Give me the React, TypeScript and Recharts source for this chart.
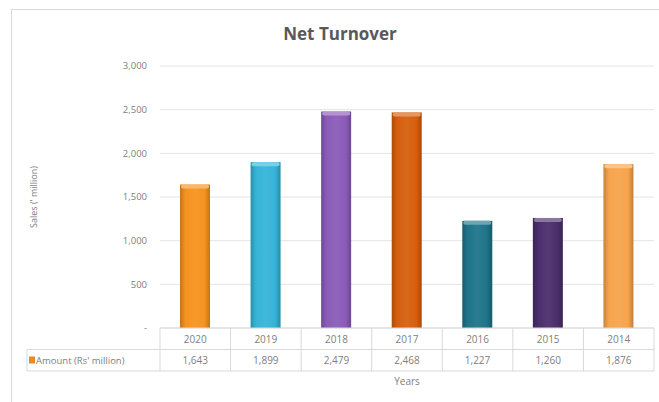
import React from 'react'
import { BarChart, Bar, XAxis, YAxis, CartesianGrid, Cell } from 'recharts'

const years = ['2020', '2019', '2018', '2017', '2016', '2015', '2014']
const amounts = [1643, 1899, 2479, 2468, 1227, 1260, 1876]
const barColors = ['#F6931F', '#35B4D8', '#8A5BB8', '#D65F0E', '#1E7489', '#4A2E6C', '#F7A44C']
const yTicks = [0, 500, 1000, 1500, 2000, 2500, 3000]

const data = years.map((year, i) => ({ year, amount: amounts[i] }))

const PLOT_LEFT = 160
const PLOT_RIGHT = 654
const TABLE_LEFT = 27
const ROW_H = 21.5
const LINE = '#d9d9d9'
const TEXT = '#808080'
const FONT = '"Open Sans", "Noto Sans", sans-serif'

const fmt = (v: number) => (v === 0 ? '-' : v.toLocaleString('en-US'))

function shade(hex: string, f: number) {
  const n = parseInt(hex.slice(1), 16)
  const c = [(n >> 16) & 255, (n >> 8) & 255, n & 255].map((v) =>
    Math.round(f < 0 ? v * (1 + f) : v + (255 - v) * f)
  )
  return `rgb(${c[0]},${c[1]},${c[2]})`
}

// flat bar with soft darker edges and a lighter cap, like the Excel 3D column look
function Column(props: any) {
  const { x, y, width, height, index } = props
  if (!height) return null
  const c = barColors[index]
  return (
    <g>
      <rect x={x} y={y} width={width} height={height} fill={`url(#g${index})`} />
      <rect x={x + 1} y={y} width={width - 2} height={4} rx={2} fill={shade(c, 0.35)} />
    </g>
  )
}

function TableTick(props: any) {
  const { x, y, index } = props
  const band = (PLOT_RIGHT - PLOT_LEFT) / years.length
  const left = x - band / 2
  const right = x + band / 2
  return (
    <g>
      {index === 0 && (
        <g>
          <line x1={PLOT_LEFT} x2={PLOT_RIGHT} y1={y} y2={y} stroke={LINE} />
          <line x1={TABLE_LEFT} x2={PLOT_RIGHT} y1={y + ROW_H} y2={y + ROW_H} stroke={LINE} />
          <line x1={TABLE_LEFT} x2={PLOT_RIGHT} y1={y + ROW_H * 2} y2={y + ROW_H * 2} stroke={LINE} />
          <line x1={TABLE_LEFT} x2={TABLE_LEFT} y1={y + ROW_H} y2={y + ROW_H * 2} stroke={LINE} />
          <rect x={TABLE_LEFT + 2} y={y + ROW_H + 7} width={6} height={7} fill="#E8892B" />
          <text x={TABLE_LEFT + 9} y={y + ROW_H + 14.5} fontSize={9.5} fill={TEXT} fontFamily={FONT}>
            Amount (Rs' million)
          </text>
        </g>
      )}
      <line x1={left} x2={left} y1={y} y2={y + ROW_H * 2} stroke={LINE} />
      {index === years.length - 1 && (
        <line x1={right} x2={right} y1={y} y2={y + ROW_H * 2} stroke={LINE} />
      )}
      <text x={x} y={y + 14.5} textAnchor="middle" fontSize={10} fill={TEXT} fontFamily={FONT}>
        {years[index]}
      </text>
      <text x={x} y={y + ROW_H + 14.5} textAnchor="middle" fontSize={10} fill={TEXT} fontFamily={FONT}>
        {fmt(amounts[index])}
      </text>
    </g>
  )
}

function YLabel(props: any) {
  const { viewBox } = props
  const cy = viewBox.y + viewBox.height / 2
  return (
    <text
      x={37}
      y={cy}
      transform={`rotate(-90, 37, ${cy})`}
      textAnchor="middle"
      fontSize={9}
      fill={TEXT}
      fontFamily={FONT}
    >
      Sales (' million)
    </text>
  )
}

export default function App() {
  return (
    <div style={{ position: 'absolute', left: 0, top: 0, width: 659, height: 402, overflow: 'hidden', background: '#fff' }}>
      <div
        style={{
          position: 'absolute',
          left: 11,
          top: 9,
          width: 700,
          height: 450,
          borderLeft: `1px solid ${LINE}`,
          borderTop: `1px solid ${LINE}`,
        }}
      />
      <div
        style={{
          position: 'absolute',
          top: 22,
          left: 0,
          width: 680,
          textAlign: 'center',
          fontFamily: FONT,
          fontWeight: 700,
          fontSize: 17,
          color: '#595959',
        }}
      >
        Net Turnover
      </div>
      <div style={{ position: 'absolute', left: 0, top: 0 }}>
        <BarChart
          width={659}
          height={402}
          data={data}
          margin={{ top: 66, right: 659 - PLOT_RIGHT, bottom: 0, left: 30 }}
        >
          <defs>
            {barColors.map((c, i) => (
              <linearGradient key={i} id={`g${i}`} x1="0" y1="0" x2="1" y2="0">
                <stop offset="0%" stopColor={shade(c, -0.2)} />
                <stop offset="18%" stopColor={c} />
                <stop offset="50%" stopColor={shade(c, 0.06)} />
                <stop offset="82%" stopColor={c} />
                <stop offset="100%" stopColor={shade(c, -0.22)} />
              </linearGradient>
            ))}
          </defs>
          <CartesianGrid vertical={false} stroke="#e4e4e4" />
          <XAxis
            dataKey="year"
            height={74}
            axisLine={false}
            tickLine={false}
            tickSize={0}
            tickMargin={0}
            interval={0}
            tick={<TableTick />}
            label={{ value: 'Years', position: 'insideBottom', offset: 17, fontSize: 10, fill: TEXT, fontFamily: FONT }}
          />
          <YAxis
            width={PLOT_LEFT - 30}
            domain={[0, 3000]}
            ticks={yTicks}
            tickFormatter={fmt}
            axisLine={false}
            tickLine={false}
            tickSize={0}
            tickMargin={13}
            tick={{ fontSize: 9.5, fill: TEXT, fontFamily: FONT }}
            label={<YLabel />}
          />
          <Bar dataKey="amount" barSize={30} isAnimationActive={false} shape={<Column />}>
            {data.map((_, i) => (
              <Cell key={i} fill={barColors[i]} />
            ))}
          </Bar>
        </BarChart>
      </div>
    </div>
  )
}
